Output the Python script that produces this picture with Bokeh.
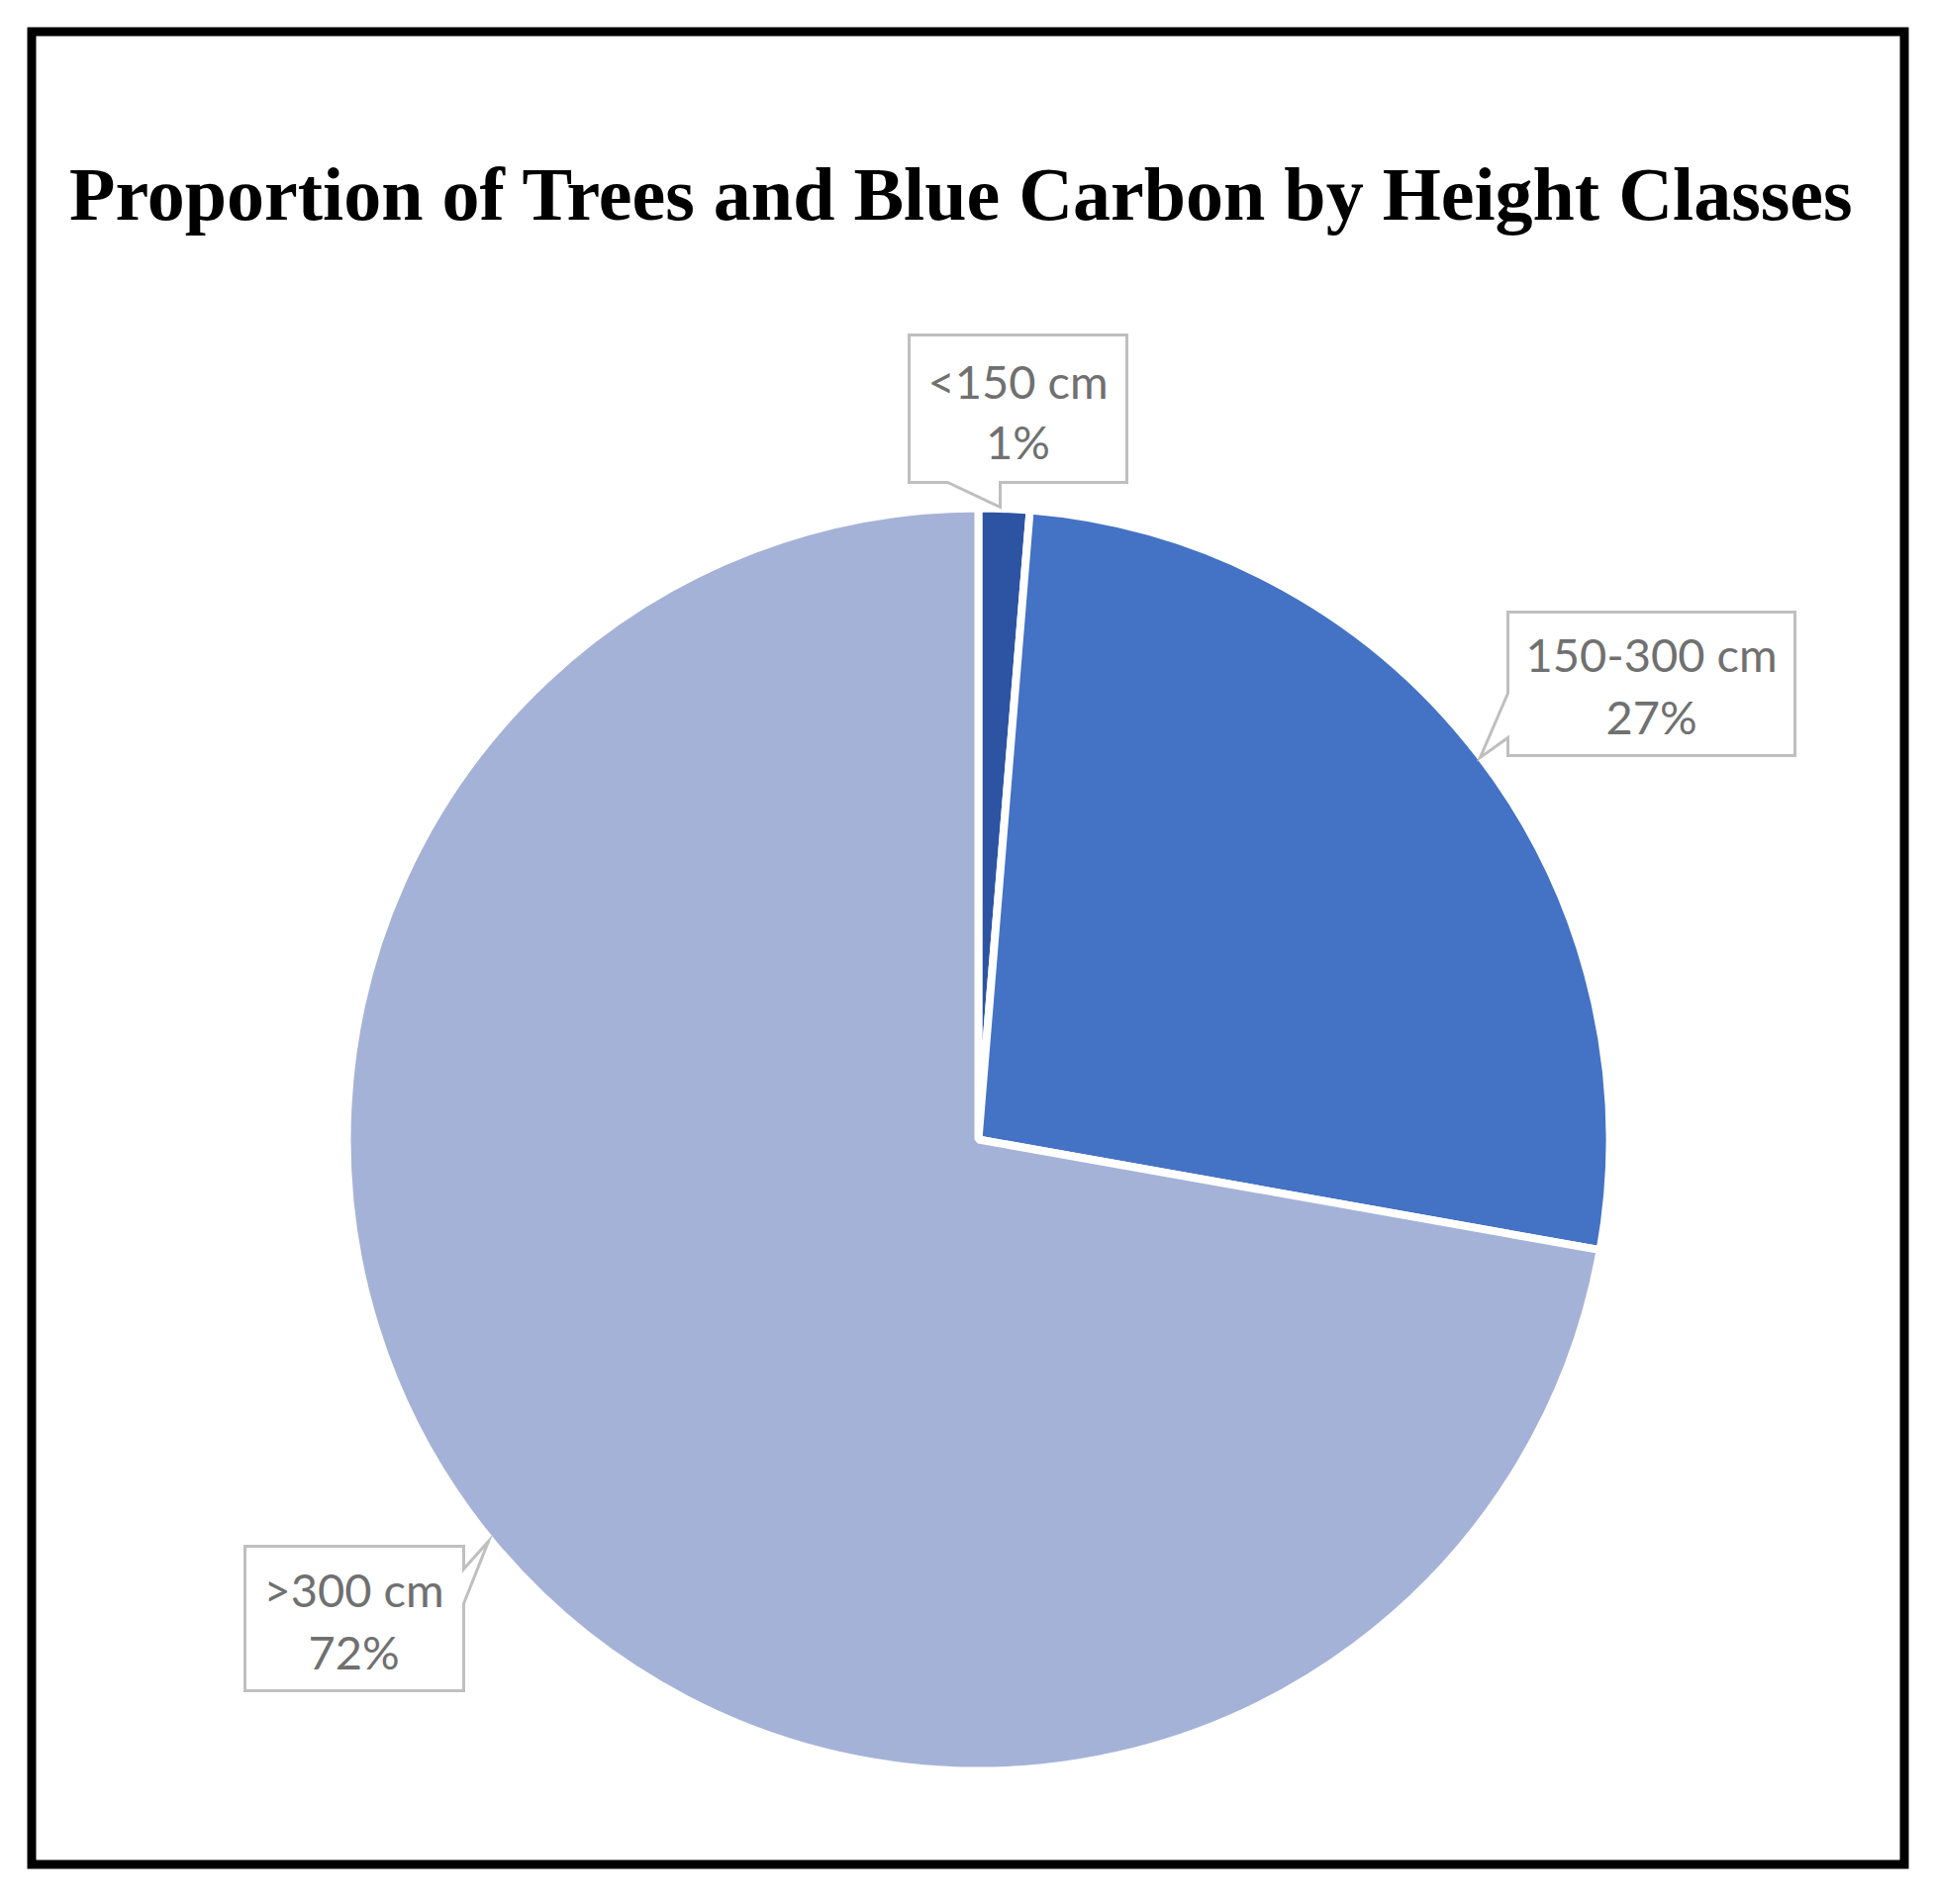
import numpy as np
from bokeh.plotting import figure
from bokeh.models import Range1d, ColumnDataSource
from bokeh.core.properties import value
from bokeh.embed import file_html
from bokeh.resources import INLINE

# ---- data ----
categories = ["<150 cm", "150-300 cm", ">300 cm"]
shares = [1.3, 26.5, 72.2]          # percent of trees / blue carbon
pct_labels = ["1%", "27%", "72%"]
colors = ["#2D53A3", "#4472C4", "#A5B2D8"]
title_text = "Proportion of Trees and Blue Carbon by Height Classes"

# ---- layout (pixel-like coordinates, y measured from top of image) ----
W, H = 1940, 1908
OFF = 0
IMG_H = 1924

def Y(ypix):
    return IMG_H - ypix

p = figure(width=W, height=H, output_backend="svg", toolbar_location=None,
           x_range=Range1d(OFF, OFF + W), y_range=Range1d(IMG_H - OFF - H, IMG_H - OFF),
           min_border=0)
p.axis.visible = False
p.grid.visible = False
p.outline_line_color = None
p.background_fill_color = "white"
p.border_fill_color = "white"

# frame border
p.quad(left=[31.5], right=[1923.5], top=[Y(31.5)], bottom=[Y(1883.5)],
       fill_color=None, line_color="black", line_width=9, line_join="miter")

# title
p.text(x=[971], y=[Y(195)], text=[title_text], text_font=value("Liberation Serif"),
       text_font_style="bold", text_font_size="76px", text_align="center",
       text_baseline="alphabetic", text_color="black")

# pie
cx, cy, r = 988, Y(1151), 638
frac = np.array(shares) / np.sum(shares)
cum = np.concatenate([[0], np.cumsum(frac)])
start = np.pi / 2 - 2 * np.pi * cum[:-1]
end = np.pi / 2 - 2 * np.pi * cum[1:]
src = ColumnDataSource(dict(start=start, end=end, color=colors, cat=categories))
p.wedge(x=cx, y=cy, radius=r, start_angle="start", end_angle="end", direction="clock",
        fill_color="color", line_color="white", line_width=8, source=src)

# callout boxes
box_line = "#BFBFBF"
callouts = [
    # <150 cm : pointer from bottom edge
    dict(xs=[918, 1138, 1138, 1010, 1010, 957, 918],
         ys=[338, 338, 487, 487, 512, 487, 487],
         tx=1028, ty=(384, 445)),
    # 150-300 cm : pointer from left edge
    dict(xs=[1523, 1813, 1813, 1523, 1523, 1495, 1523],
         ys=[618, 618, 763, 763, 745, 765, 700],
         tx=1668, ty=(660, 723)),
    # >300 cm : pointer from right edge
    dict(xs=[247, 468, 468, 493, 468, 468, 247],
         ys=[1562, 1562, 1585, 1557, 1620, 1708, 1708],
         tx=357, ty=(1605, 1668)),
]
for i, c in enumerate(callouts):
    p.patch(x=c["xs"], y=[Y(v) for v in c["ys"]], fill_color="white",
            line_color=box_line, line_width=3, line_join="miter")
    p.text(x=[c["tx"], c["tx"]], y=[Y(c["ty"][0]), Y(c["ty"][1])],
           text=[categories[i], pct_labels[i]], text_font=value("Lato"),
           text_font_size="47px", text_align="center", text_baseline="middle",
           text_color="#707070")

open("out.html", "w").write(file_html(p, INLINE))
